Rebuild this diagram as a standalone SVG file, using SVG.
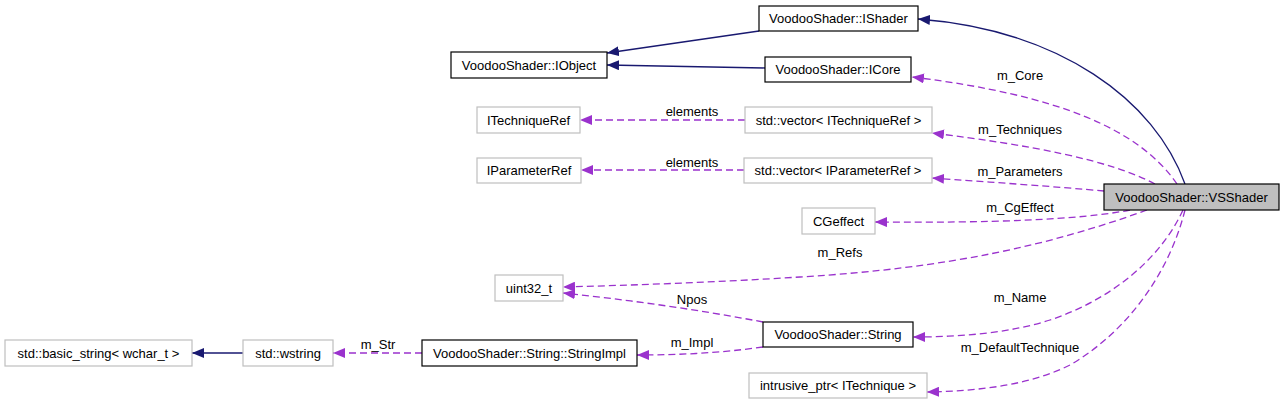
<svg xmlns="http://www.w3.org/2000/svg" width="1285" height="404" viewBox="0 0 1285 404">
<style>
text{font-family:"Liberation Sans",Arial,sans-serif;font-size:13px;fill:#000;text-anchor:middle}
.doc rect{fill:#fff;stroke:#000;stroke-width:1.2}
.undoc rect{fill:#fff;stroke:#bfbfbf;stroke-width:1.2}
.cur rect{fill:#bfbfbf;stroke:#000;stroke-width:1.2}
.inh{fill:none;stroke:#191970;stroke-width:1.3;marker-end:url(#an)}
.use{fill:none;stroke:#9a32cd;stroke-width:1.3;stroke-dasharray:7,4;marker-end:url(#ap)}
</style>
<defs>
<marker id="an" markerUnits="userSpaceOnUse" markerWidth="12" markerHeight="10" viewBox="0 0 12 10" refX="12" refY="5" orient="auto"><path d="M0,0 L12,5 L0,10 z" fill="#191970"/></marker>
<marker id="ap" markerUnits="userSpaceOnUse" markerWidth="12" markerHeight="10" viewBox="0 0 12 10" refX="12" refY="5" orient="auto"><path d="M0,0 L12,5 L0,10 z" fill="#9a32cd"/></marker>
</defs>
<rect width="1285" height="404" fill="#fff"/>
<g id="connectors">
<path class="inh" d="M1185,184 C1155,100 1060,30 918,19"/>
<path class="inh" d="M759,31 L607,53"/>
<path class="inh" d="M765,68 L607,65"/>
<path class="inh" d="M243,353 L192,353"/>
<path class="use" d="M1177,184 C1140,130 1060,95 912,77"/>
<path class="use" d="M1155,184 C1110,160 1030,145 932,133"/>
<path class="use" d="M1104,191 C1060,187 990,182 932,178"/>
<path class="use" d="M745,120 L580,120"/>
<path class="use" d="M744,170 L581,170"/>
<path class="use" d="M1130,210 C1080,220 990,223 875,222"/>
<path class="use" d="M1147,210 C1050,245 950,268 800,277 C720,282 640,285 563,287"/>
<path class="use" d="M763,322 C700,310 630,300 563,293"/>
<path class="use" d="M763,347 C720,353 680,355 637,355"/>
<path class="use" d="M422,353 L333,353"/>
<path class="use" d="M1183,210 C1160,260 1110,300 1050,320 C1010,333 960,337 913,337"/>
<path class="use" d="M1185,210 C1170,270 1130,330 1070,365 C1030,385 980,391 927,392"/>
<text x="1020" y="80">m_Core</text>
<text x="1020" y="134">m_Techniques</text>
<text x="1020" y="176">m_Parameters</text>
<text x="692" y="116">elements</text>
<text x="692" y="167">elements</text>
<text x="1020" y="212">m_CgEffect</text>
<text x="840" y="257">m_Refs</text>
<text x="692" y="304">Npos</text>
<text x="692" y="347">m_Impl</text>
<text x="378" y="349">m_Str</text>
<text x="1020" y="302">m_Name</text>
<text x="1020" y="352">m_DefaultTechnique</text>
</g>
<g id="VSShader" class="cur"><rect x="1104" y="184" width="175" height="26"/><text x="1191.5" y="202">VoodooShader::VSShader</text></g>
<g id="IShader" class="doc"><rect x="759" y="6" width="159" height="25"/><text x="838.5" y="23">VoodooShader::IShader</text></g>
<g id="IObject" class="doc"><rect x="451" y="52" width="156" height="26"/><text x="529" y="70">VoodooShader::IObject</text></g>
<g id="ICore" class="doc"><rect x="765" y="57" width="146" height="25"/><text x="838" y="74">VoodooShader::ICore</text></g>
<g id="ITechniqueRef" class="undoc"><rect x="477" y="107" width="103" height="26"/><text x="528.5" y="125">ITechniqueRef</text></g>
<g id="VecTechniqueRef" class="undoc"><rect x="745" y="107" width="187" height="26"/><text x="838.5" y="125">std::vector&lt; ITechniqueRef &gt;</text></g>
<g id="IParameterRef" class="undoc"><rect x="477" y="158" width="104" height="25"/><text x="529" y="175">IParameterRef</text></g>
<g id="VecParameterRef" class="undoc"><rect x="744" y="158" width="188" height="25"/><text x="838" y="175">std::vector&lt; IParameterRef &gt;</text></g>
<g id="CGeffect" class="undoc"><rect x="802" y="208" width="73" height="26"/><text x="838.5" y="226">CGeffect</text></g>
<g id="uint32_t" class="undoc"><rect x="495" y="275" width="68" height="26"/><text x="529" y="293">uint32_t</text></g>
<g id="String" class="doc"><rect x="763" y="322" width="150" height="25"/><text x="838" y="339">VoodooShader::String</text></g>
<g id="StringImpl" class="doc"><rect x="422" y="340" width="215" height="26"/><text x="529.5" y="358">VoodooShader::String::StringImpl</text></g>
<g id="wstring" class="undoc"><rect x="243" y="340" width="90" height="26"/><text x="288" y="358">std::wstring</text></g>
<g id="basic_string" class="undoc"><rect x="5" y="340" width="187" height="26"/><text x="98.5" y="358">std::basic_string&lt; wchar_t &gt;</text></g>
<g id="intrusive_ptr" class="undoc"><rect x="749" y="373" width="178" height="25"/><text x="838" y="390">intrusive_ptr&lt; ITechnique &gt;</text></g>
</svg>
